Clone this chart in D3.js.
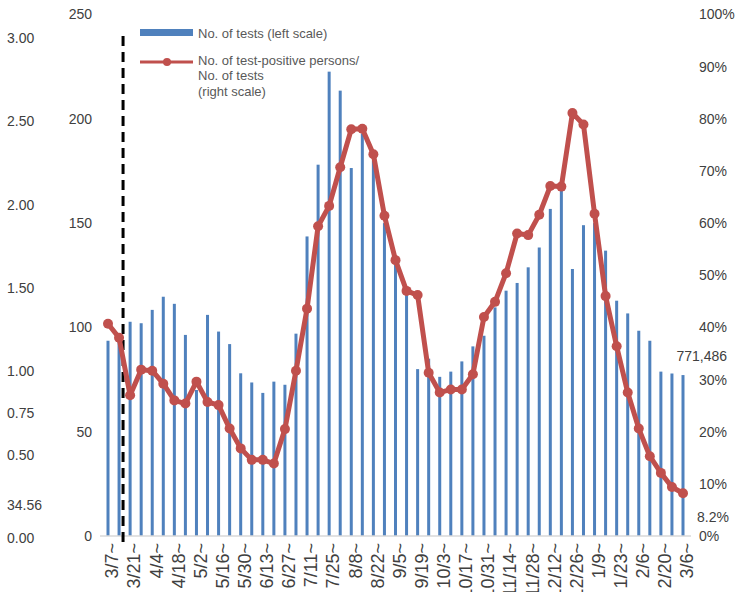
<!DOCTYPE html>
<html>
<head>
<meta charset="utf-8">
<script src="https://cdn.jsdelivr.net/npm/d3@7"></script>
<style>
  body { margin: 0; background: #fff; }
  svg { display: block; font-family: "Liberation Sans", Arial, sans-serif; }
</style>
</head>
<body>
<div id="chart"></div>
<script>
const width = 749, height = 592;

// week start dates (3/7 ... 3/6 of the next year)
const weeks = ["3/7","3/14","3/21","3/28","4/4","4/11","4/18","4/25","5/2","5/9","5/16","5/23","5/30",
  "6/6","6/13","6/20","6/27","7/4","7/11","7/18","7/25","8/1","8/8","8/15","8/22","8/29","9/5","9/12",
  "9/19","9/26","10/3","10/10","10/17","10/24","10/31","11/7","11/14","11/21","11/28","12/5","12/12",
  "12/19","12/26","1/2","1/9","1/16","1/23","1/30","2/6","2/13","2/20","2/27","3/6"];

// No. of tests, in units of 10,000 (left scale)
const tests = [93.6,95,102.7,102,108.4,114.7,111.3,96.4,70,106,98,92,78,73.6,68.6,74,72.5,97,143.6,178,
  222.6,213.5,176.4,193,180,150,130,116,80,85,76.3,78.8,83.7,90.9,96,109.6,117.6,121.3,128.8,138.3,
  156.8,166,128,149,150,136.8,112.8,106.7,98.4,93.6,78.8,77.9,77.1486];

// test-positive persons / tests, % (right scale)
const positive = [40.7,38.0,27.0,31.9,31.7,29.2,26.0,25.4,29.6,25.7,25.1,20.6,16.8,14.6,14.6,13.9,20.5,
  31.7,43.6,59.4,63.3,70.7,78.0,78.1,73.2,61.4,52.9,47.0,46.2,31.3,27.5,28.1,28.1,31.0,42.0,44.9,50.4,
  58.0,57.7,61.6,67.1,67.0,81.1,78.9,61.8,46.0,36.4,27.5,20.6,15.3,12.1,9.4,8.2];

const leftTicks = [0, 50, 100, 150, 200, 250];
const rightTicks = [0, 10, 20, 30, 40, 50, 60, 70, 80, 90, 100];
const farLeftTicks = [0, 0.5, 0.75, 1, 1.5, 2, 2.5, 3];

const svg = d3.select("#chart").append("svg")
  .attr("width", width)
  .attr("height", height)
  .attr("viewBox", [0, 0, width, height]);

const x = d3.scalePoint()
  .domain(d3.range(weeks.length))
  .range([108, 683]);

const yL = d3.scaleLinear().domain([0, 250]).range([536, 14.5]);
const yR = d3.scaleLinear().domain([0, 100]).range([536, 14.5]);
const yF = d3.scaleLinear().domain([0, 3]).range([538, 38]);

const textColor = "#404040";

// left axis (tests)
svg.append("g")
  .attr("transform", "translate(92,0)")
  .call(d3.axisLeft(yL).tickValues(leftTicks).tickSize(0).tickPadding(0))
  .call(g => g.select(".domain").remove())
  .call(g => g.selectAll("text").attr("font-size", 14).attr("fill", textColor).attr("font-family", null));

// right axis (%)
svg.append("g")
  .attr("transform", "translate(699,0)")
  .call(d3.axisRight(yR).tickValues(rightTicks).tickSize(0).tickPadding(0).tickFormat(d => d + "%"))
  .call(g => g.select(".domain").remove())
  .call(g => g.selectAll("text").attr("font-size", 14).attr("fill", textColor).attr("font-family", null));

// far left labels
svg.append("g")
  .attr("transform", "translate(7,0)")
  .call(d3.axisRight(yF).tickValues(farLeftTicks).tickSize(0).tickPadding(0).tickFormat(d3.format(".2f")))
  .call(g => g.select(".domain").remove())
  .call(g => g.selectAll("text").attr("font-size", 14).attr("fill", textColor).attr("font-family", null));

svg.append("text")
  .attr("x", 7).attr("y", yF(0.2))
  .attr("dy", "0.35em")
  .attr("font-size", 14).attr("fill", textColor)
  .text("34.56");

// bars
svg.append("g")
  .selectAll("rect")
  .data(tests)
  .join("rect")
  .attr("x", (d, i) => x(i) - 1.5)
  .attr("width", 3)
  .attr("y", d => yL(d))
  .attr("height", d => yL(0) - yL(d))
  .attr("fill", "#4f81bd");

// baseline
svg.append("line")
  .attr("x1", 100).attr("x2", 691)
  .attr("y1", yL(0)).attr("y2", yL(0))
  .attr("stroke", "#d9d9d9").attr("stroke-width", 1.5);

// dashed marker line
const dashX = x(1) + 4;
svg.append("line")
  .attr("x1", dashX).attr("x2", dashX)
  .attr("y1", 36).attr("y2", 542)
  .attr("stroke", "#000").attr("stroke-width", 3)
  .attr("stroke-dasharray", "10,6");

// positive rate line
const line = d3.line()
  .x((d, i) => x(i))
  .y(d => yR(d));

svg.append("path")
  .datum(positive)
  .attr("fill", "none")
  .attr("stroke", "#c0504d")
  .attr("stroke-width", 5)
  .attr("stroke-linejoin", "round")
  .attr("d", line);

svg.append("g")
  .selectAll("circle")
  .data(positive)
  .join("circle")
  .attr("cx", (d, i) => x(i))
  .attr("cy", d => yR(d))
  .attr("r", 5)
  .attr("fill", "#c0504d");

// x labels, every second week
svg.append("g")
  .selectAll("text")
  .data(weeks.map((w, i) => ({w, i})).filter(d => d.i % 2 === 0))
  .join("text")
  .attr("transform", d => `translate(${x(d.i) + 4},543) rotate(-90)`)
  .attr("text-anchor", "end")
  .attr("dy", "0.35em")
  .attr("font-size", 18)
  .attr("fill", textColor)
  .text(d => d.w + "~");

// value labels
const last = tests.length - 1;
svg.append("text")
  .attr("x", 727).attr("y", yL(tests[last]) - 19)
  .attr("dy", "0.35em")
  .attr("text-anchor", "end")
  .attr("font-size", 14).attr("fill", textColor)
  .text(d3.format(",")(Math.round(tests[last] * 10000)));

svg.append("text")
  .attr("x", 697).attr("y", yR(positive[last]) + 24)
  .attr("dy", "0.35em")
  .attr("font-size", 14).attr("fill", textColor)
  .text(positive[last] + "%");

// legend
const legend = svg.append("g").attr("fill", "#595959").attr("font-size", 13);
legend.append("rect")
  .attr("x", 140).attr("y", 29).attr("width", 53).attr("height", 7)
  .attr("fill", "#4f81bd");
legend.append("text")
  .attr("x", 198).attr("y", 33).attr("dy", "0.35em")
  .text("No. of tests (left scale)");
legend.append("line")
  .attr("x1", 140).attr("x2", 193).attr("y1", 62).attr("y2", 62)
  .attr("stroke", "#c0504d").attr("stroke-width", 3);
legend.append("circle")
  .attr("cx", 167).attr("cy", 62).attr("r", 4)
  .attr("fill", "#c0504d");
["No. of test-positive persons/", "No. of tests", "(right scale)"].forEach((t, k) => {
  legend.append("text")
    .attr("x", 198).attr("y", 60 + k * 15.5).attr("dy", "0.35em")
    .text(t);
});
</script>
</body>
</html>
